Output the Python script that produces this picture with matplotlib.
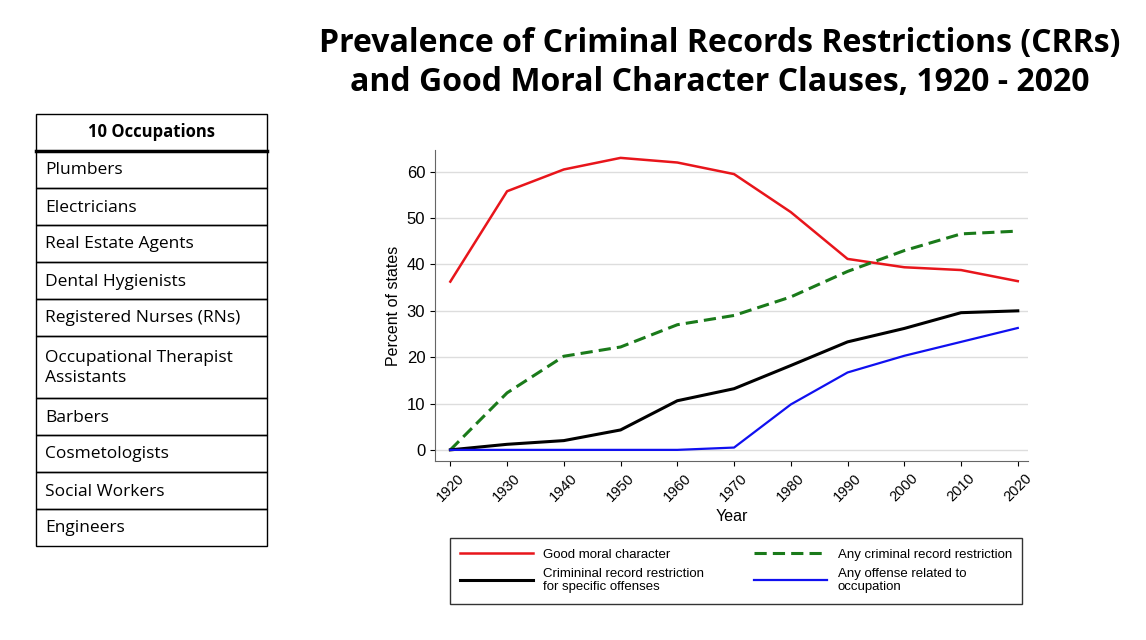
import matplotlib.pyplot as plt
from matplotlib.patches import Rectangle
from matplotlib.lines import Line2D

years = [1920, 1930, 1940, 1950, 1960, 1970, 1980, 1990, 2000, 2010, 2020]
good_moral = [36.3, 55.8, 60.5, 63.0, 62.0, 59.5, 51.3, 41.2, 39.4, 38.8, 36.4]
any_crr = [0, 12.3, 20.2, 22.2, 27.0, 29.0, 33.0, 38.5, 43.0, 46.6, 47.2]
specific = [0, 1.2, 2.0, 4.3, 10.6, 13.2, 18.2, 23.3, 26.2, 29.6, 30.0]
related = [0, 0, 0, 0, 0, 0.5, 9.8, 16.7, 20.3, 23.3, 26.3]

occupations = ["Plumbers", "Electricians", "Real Estate Agents", "Dental Hygienists",
               "Registered Nurses (RNs)", "Occupational Therapist\nAssistants", "Barbers",
               "Cosmetologists", "Social Workers", "Engineers"]

plt.rcParams['font.family'] = ['Liberation Sans', 'DejaVu Sans']

W, H = 1146, 640
fig = plt.figure(figsize=(W / 100, H / 100), dpi=100)


def fx(px):
    return px / W


def fy(py):
    return 1 - py / H


fig.text(fx(720), fy(63), "Prevalence of Criminal Records Restrictions (CRRs)\nand Good Moral Character Clauses, 1920 - 2020",
         ha="center", va="center", fontsize=23, fontweight="bold", family="Open Sans", linespacing=1.25)

# occupations table
row_h = [37] * 10
row_h[5] = 62
top = 151
fig.patches.append(Rectangle((fx(36), fy(151)), fx(267) - fx(36), fy(114) - fy(151),
                             transform=fig.transFigure, fill=False, ec="black", lw=1))
fig.text(fx(151), fy(132), "10 Occupations", ha="center", va="center", fontsize=12,
         fontweight="bold", family="Open Sans")
fig.add_artist(Line2D([fx(36), fx(267)], [fy(151), fy(151)], color="black", lw=2.5))
for name, h in zip(occupations, row_h):
    fig.patches.append(Rectangle((fx(36), fy(top + h)), fx(267) - fx(36), fy(top) - fy(top + h),
                                 transform=fig.transFigure, fill=False, ec="black", lw=1))
    fig.text(fx(45), fy(top + h / 2 + 1), name, ha="left", va="center", fontsize=12.5,
             family="Open Sans", linespacing=1.3)
    top += h

ax = fig.add_axes([fx(435), fy(461), fx(1028) - fx(435), fy(150) - fy(461)])
ax.plot(years, good_moral, color="#e8151b", lw=1.8, label="Good moral character")
ax.plot(years, any_crr, color="#1a7a1a", lw=2.2, ls=(0, (4, 2)), label="Any criminal record restriction")
ax.plot(years, specific, color="black", lw=2.2, label="Crimininal record restriction\nfor specific offenses")
ax.plot(years, related, color="#1010f0", lw=1.6, label="Any offense related to\noccupation")
ax.set_xlim(1917.3, 2021.8)
ax.set_ylim(-2.4, 64.7)
ax.set_xticks(years)
ax.set_xticklabels(years, rotation=45, fontsize=10.5)
ax.set_yticks(range(0, 61, 10))
ax.tick_params(axis="y", labelsize=12, colors="black")
ax.grid(axis="y", color="#dddddd", lw=1)
ax.set_axisbelow(True)
for s in ["top", "right"]:
    ax.spines[s].set_visible(False)
for s in ["left", "bottom"]:
    ax.spines[s].set_color("#666666")
ax.set_xlabel("Year", fontsize=11.5)
ax.set_ylabel("Percent of states", fontsize=11.5)

h, l = ax.get_legend_handles_labels()
order = [0, 2, 1, 3]
fig.legend([h[i] for i in order], [l[i] for i in order], ncol=2, loc="center",
           bbox_to_anchor=(fx(736), fy(571)), fontsize=9.5, frameon=True, fancybox=False,
           edgecolor="black", handlelength=5.5, columnspacing=3.8, borderpad=0.8)

fig.savefig("out.png", dpi=100)
